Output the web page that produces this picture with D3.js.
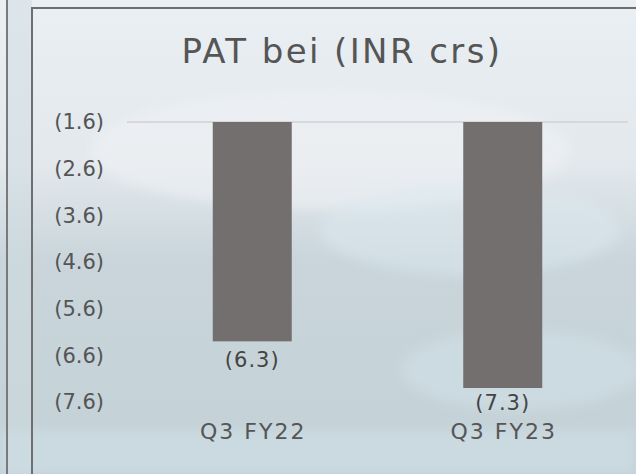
<!DOCTYPE html>
<html><head><meta charset="utf-8">
<script src="https://cdn.jsdelivr.net/npm/d3@7"></script>
<style>html,body{margin:0;padding:0;background:#dfe7eb;}svg{display:block;}</style>
</head><body>
<script>
const categories = ["Q3 FY22", "Q3 FY23"];
const values = [-6.3, -7.3];
const valueLabels = ["(6.3)", "(7.3)"];
const tickValues = [-1.6, -2.6, -3.6, -4.6, -5.6, -6.6, -7.6];
const tickLabels = ["(1.6)", "(2.6)", "(3.6)", "(4.6)", "(5.6)", "(6.6)", "(7.6)"];
const title = "PAT bei (INR crs)";

const W = 636, H = 474;
const FONT = "'DejaVu Sans', sans-serif";
const svg = d3.select("body").append("svg").attr("width", W).attr("height", H);
const defs = svg.append("defs");

// background approximating the blurred photo
const bg = defs.append("linearGradient").attr("id","bg").attr("x1",0).attr("y1",0).attr("x2",0).attr("y2",1);
bg.append("stop").attr("offset","0").attr("stop-color","#e9eff3");
bg.append("stop").attr("offset","0.35").attr("stop-color","#e2e8ec");
bg.append("stop").attr("offset","0.55").attr("stop-color","#c9d5db");
bg.append("stop").attr("offset","1").attr("stop-color","#c3d1d7");
svg.append("rect").attr("width",W).attr("height",H).attr("fill","url(#bg)");
const blur = defs.append("filter").attr("id","blur").attr("x","-20%").attr("y","-20%").attr("width","140%").attr("height","140%");
blur.append("feGaussianBlur").attr("stdDeviation",6);
svg.append("ellipse").attr("cx",330).attr("cy",150).attr("rx",240).attr("ry",60).attr("fill","#f1f3f6").attr("opacity",0.55).attr("filter","url(#blur)");
svg.append("ellipse").attr("cx",470).attr("cy",230).attr("rx",150).attr("ry",45).attr("fill","#dce9f0").attr("opacity",0.5).attr("filter","url(#blur)");
svg.append("ellipse").attr("cx",520).attr("cy",370).attr("rx",120).attr("ry",40).attr("fill","#d3e2e9").attr("opacity",0.5).attr("filter","url(#blur)");
svg.append("rect").attr("x",0).attr("y",430).attr("width",W).attr("height",44).attr("fill","#cfe0e6").attr("opacity",0.6).attr("filter","url(#blur)");
svg.append("rect").attr("x",8).attr("y",0).attr("width",24).attr("height",H).attr("fill","#cddbe2").attr("opacity",0.5);

// borders
svg.append("line").attr("x1",7).attr("x2",7).attr("y1",0).attr("y2",H).attr("stroke","#7a7a7a").attr("stroke-width",2);
svg.append("rect").attr("x",32).attr("y",8).attr("width",W).attr("height",H).attr("fill","none").attr("stroke","#6e6e6e").attr("stroke-width",2);

// title
svg.append("text").attr("x",342).attr("y",63).attr("text-anchor","middle")
  .attr("font-family",FONT).attr("font-size",34).attr("letter-spacing",2.4).attr("fill","#555555").text(title);

const y = d3.scaleLinear().domain([-1.6, -7.6]).range([122, 402]);
const x = d3.scaleBand().domain(categories).range([127, 628]).padding(0);
const barW = 79;

// y axis labels
const yAxis = d3.axisLeft(y).tickValues(tickValues).tickSize(0).tickPadding(0)
  .tickFormat((d,i) => tickLabels[i]);
const ya = svg.append("g").attr("transform","translate(104,0)").call(yAxis);
ya.select(".domain").remove();
ya.selectAll("text").attr("font-family",FONT).attr("font-size",21).attr("fill","#555555");

// gridline at top
svg.append("line").attr("x1",127).attr("x2",628).attr("y1",y(-1.6)).attr("y2",y(-1.6))
  .attr("stroke","#d8d8d8").attr("stroke-width",2);

// bars
svg.selectAll("rect.bar").data(values).enter().append("rect").attr("class","bar")
  .attr("x",(d,i)=>x(categories[i]) + x.bandwidth()/2 - barW/2)
  .attr("y",y(-1.6))
  .attr("width",barW)
  .attr("height",d=>y(d)-y(-1.6))
  .attr("fill","#736f6e");

// value labels
const labelOffsets = [26, 22];
svg.selectAll("text.val").data(values).enter().append("text").attr("class","val")
  .attr("x",(d,i)=>x(categories[i]) + x.bandwidth()/2)
  .attr("y",(d,i)=>y(d) + labelOffsets[i])
  .attr("text-anchor","middle").attr("font-family",FONT).attr("font-size",21).attr("letter-spacing",1)
  .attr("fill","#444444")
  .text((d,i)=>valueLabels[i]);

// category labels
const xAxis = d3.axisBottom(x).tickSize(0).tickPadding(0);
const xa = svg.append("g").attr("transform","translate(1,423)").call(xAxis);
xa.select(".domain").remove();
xa.selectAll("text").attr("font-family",FONT).attr("font-size",22).attr("letter-spacing",2).attr("fill","#555555");
</script>
</body></html>
